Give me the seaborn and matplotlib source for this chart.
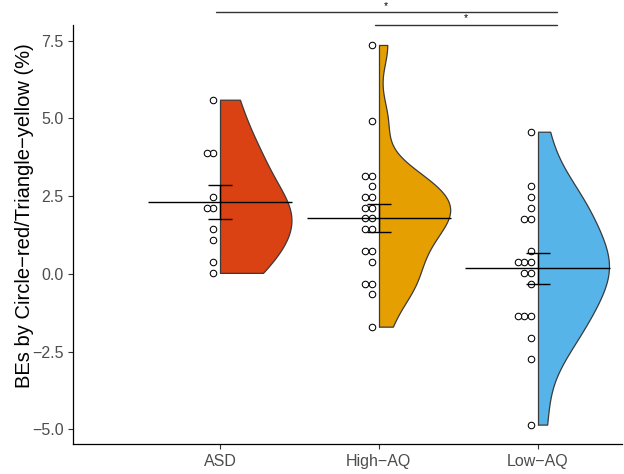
import seaborn as sns
import matplotlib.pyplot as plt
import numpy as np
import pandas as pd
from matplotlib.patches import Rectangle

# Groups and colours
groups = ['ASD', 'High\u2212AQ', 'Low\u2212AQ']
colors = ['#DA4113', '#E69F00', '#56B4E9']

# Individual BE values (%)
asd_vals = [5.60, 3.87, 3.87, 2.48, 2.13, 2.13, 1.43, 1.09, 0.39, 0.03]
high_vals = [7.36, 4.92, 3.16, 3.16, 2.82, 2.48, 2.48, 2.13, 2.13, 1.78,
             1.78, 1.43, 1.43, 0.73, 0.73, 0.39, -0.33, -0.33, -0.66, -1.70]
low_vals = [4.57, 2.82, 2.47, 2.13, 1.77, 1.77, 0.72, 0.38, 0.38, 0.38,
            0.03, 0.03, -0.32, -1.37, -1.37, -1.37, -2.06, -2.75, -4.85]

# Significance brackets: (start group, end group, label)
sig_pairs = [(0, 2, '*'), (1, 2, '*')]

df = pd.DataFrame({
    'group': [groups[0]] * len(asd_vals) + [groups[1]] * len(high_vals) + [groups[2]] * len(low_vals),
    'value': asd_vals + high_vals + low_vals,
})
df['group'] = pd.Categorical(df['group'], categories=groups, ordered=True)

sns.set_theme(style='ticks')
plt.rcParams['font.family'] = ['Liberation Sans', 'DejaVu Sans']

fig = plt.figure(figsize=(6.24, 4.74), dpi=100)
ax = fig.add_axes([0.1175, 0.0633, 0.8795, 0.884])


def nrd0(kde):
    # R's default bandwidth (bw.nrd0) expressed as a scipy factor
    x = kde.dataset.ravel()
    sd = x.std(ddof=1)
    iqr = np.subtract(*np.percentile(x, [75, 25]))
    h = 0.9 * min(sd, iqr / 1.34) * len(x) ** (-0.2)
    return h / sd


outline = '#3a3a3a'
sns.violinplot(data=df, x='group', y='value', hue='group', palette=colors,
               inner=None, cut=0, density_norm='area', width=0.9,
               bw_method=nrd0, linewidth=0.9, linecolor=outline,
               saturation=1, legend=False, ax=ax)

# keep only the right half of every violin
for coll in ax.collections:
    verts = coll.get_paths()[0].vertices
    pos = np.round(verts[:, 0].mean())
    coll.set_clip_path(Rectangle((pos, -100), 1, 200, transform=ax.transData))

stats = df.groupby('group', observed=True)['value'].agg(['mean', 'sem', 'min', 'max'])
pos = np.arange(len(groups))
ax.vlines(pos, stats['min'], stats['max'], color=outline, lw=0.9, zorder=3)

# dots stacked to the left of each violin
df['stack'] = df.groupby(['group', 'value'], observed=True).cumcount()
df['xpos'] = df['group'].cat.codes - 0.044 - 0.04 * df['stack']
ax.scatter(df['xpos'], df['value'], s=22, facecolor='white', edgecolor='black',
           linewidth=0.75, zorder=4)

# mean line and standard error
ax.hlines(stats['mean'], pos - 0.455, pos + 0.455, color='black', lw=1.0, zorder=5)
ax.errorbar(pos, stats['mean'], yerr=stats['sem'], fmt='none', ecolor='black',
            elinewidth=1.0, capsize=8.5, capthick=1.0, zorder=5)

# significance brackets above the panel
bar_y = [8.41, 8.01]
for (a, b, lab), yb in zip(sig_pairs, bar_y):
    x0, x1 = a - 0.025, b + 0.12
    ax.plot([x0, x1], [yb, yb], color='#333333', lw=1.0, clip_on=False)
    ax.text((x0 + x1) / 2, yb + 0.05, lab, ha='center', va='bottom',
            fontsize=7.5, color='black', clip_on=False)

ax.set_xlim(-0.924, 2.533)
ax.set_ylim(-5.474, 8.003)
ax.set_yticks([-5, -2.5, 0, 2.5, 5, 7.5])
ax.set_yticklabels([f'{v:.1f}'.replace('-', '\u2212') for v in [-5, -2.5, 0, 2.5, 5, 7.5]])
ax.set_xlabel('')
ax.set_ylabel('BEs by Circle\u2212red/Triangle\u2212yellow (%)', fontsize=14.5, color='black')
ax.yaxis.set_label_coords(-0.0716, 0.544)
ax.tick_params(axis='both', labelsize=11.5, labelcolor='#4D4D4D', color='#333333',
               length=3.5, width=0.8)
sns.despine(ax=ax)
for side in ['left', 'bottom']:
    ax.spines[side].set_color('black')
    ax.spines[side].set_linewidth(0.9)

fig.savefig('out.png', dpi=100)
